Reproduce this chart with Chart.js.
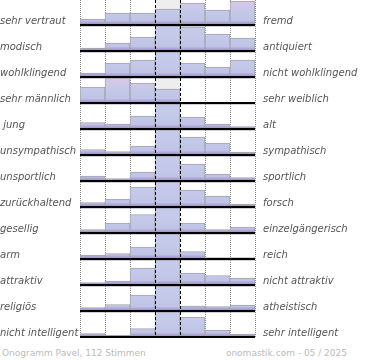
<!DOCTYPE html>
<html>
<head>
<meta charset="utf-8">
<script src="https://cdn.jsdelivr.net/npm/chart.js@4.4.1/dist/chart.umd.min.js"></script>
<style>
  body { margin: 0; background: #fff; }
  #wrap { position: relative; width: 370px; height: 360px; font-family: 'DejaVu Sans', sans-serif; }
  #wrap canvas { position: absolute; left: 0; }
  .lbl { position: absolute; font-size: 10px; line-height: 12px; font-style: italic; color: #555; white-space: pre; }
  .foot { position: absolute; top: 348px; font-size: 9px; line-height: 11px; color: #bbb; white-space: pre; }
</style>
</head>
<body>
<div id="wrap">
  <div class="foot" style="left:2px">Onogramm Pavel, 112 Stimmen</div>
  <div class="foot" style="right:23px">onomastik.com - 05 / 2025</div>
</div>
<script>
// Onogramm - one small histogram per pair of attributes
var leftLabels = ['sehr vertraut', 'modisch', 'wohlklingend', 'sehr männlich', ' jung', 'unsympathisch',
    'unsportlich', 'zurückhaltend', 'gesellig', 'arm', 'attraktiv', 'religiös', 'nicht intelligent'];
var rightLabels = ['fremd', 'antiquiert', 'nicht wohlklingend', 'sehr weiblich', 'alt', 'sympathisch',
    'sportlich', 'forsch', 'einzelgängerisch', 'reich', 'nicht attraktiv', 'atheistisch', 'sehr intelligent'];
var steps = ['1', '2', '3', '4', '5', '6', '7'];

// bar heights per row (max of each row = 25)
var rowValues = [
    [6, 12, 12, 16, 22, 15, 24],
    [3, 8, 14, 25, 24, 17, 13],
    [4, 14, 17, 25, 14, 10, 17],
    [16, 25, 20, 14, 0, 0, 0],
    [6.5, 5, 13, 25, 12, 5, 2.5],
    [5.5, 3.5, 9, 25, 18, 12, 3],
    [5, 2.5, 9, 25, 17, 7, 3.5],
    [4.5, 8, 20, 25, 17, 11, 3],
    [3.5, 10, 18.5, 25, 10, 3.5, 6],
    [4, 5.5, 12, 25, 7.5, 1.5, 1.5],
    [2.5, 4, 17, 25, 12, 9.5, 7],
    [3.5, 6.5, 16, 25, 5, 4.5, 6],
    [3.5, 2, 8.5, 25, 20, 7, 3]
];
var yMax = 25;
var rowH = 26;

// grid lines, grey middle column and black baseline
var rowDecor = {
    id: 'rowDecor',
    beforeDatasetsDraw: function(chart, args, opts) {
        var c = chart.ctx, a = chart.chartArea;
        var n = chart.data.labels.length, w = a.width / n, mid = Math.floor(n / 2);
        c.save();
        c.fillStyle = '#eeeeee';
        c.fillRect(chart.scales.x.getPixelForValue(mid) - w / 2, a.top, w, a.height);
        c.strokeStyle = '#8a8a8a';
        c.lineWidth = 1;
        c.setLineDash([1, 1]);
        for (var k = 0; k <= n; k++) {
            if (k == mid || k == mid + 1) continue;
            var x = Math.round(a.left + k * w) + 0.5;
            c.beginPath();
            c.moveTo(x, 0);
            c.lineTo(x, chart.height);
            c.stroke();
        }
        // soft shadow under the baseline of the row above
        if (opts.shadow) {
            c.fillStyle = 'rgba(120,120,140,0.35)';
            c.fillRect(a.left + 1, 0, a.width, 1);
        }
        c.restore();
    },
    afterDatasetsDraw: function(chart) {
        var c = chart.ctx, a = chart.chartArea;
        var n = chart.data.labels.length, w = a.width / n, mid = Math.floor(n / 2);
        c.save();
        c.strokeStyle = '#000';
        c.lineWidth = 1;
        c.setLineDash([3, 2]);
        [mid, mid + 1].forEach(function(k) {
            var x = Math.round(a.left + k * w) + 0.5;
            c.beginPath();
            c.moveTo(x, 0);
            c.lineTo(x, chart.height);
            c.stroke();
        });
        c.setLineDash([]);
        c.fillStyle = '#000';
        c.fillRect(a.left, a.bottom - 1, a.width, 2);
        c.restore();
    }
};

function barFill(context) {
    var chart = context.chart, a = chart.chartArea;
    if (!a) return '#c3c8e8';
    var vals = chart.data.datasets[0].data;
    var peak = vals.indexOf(Math.max.apply(null, vals));
    var g = chart.ctx.createLinearGradient(0, a.top, 0, a.bottom);
    g.addColorStop(0, peak == 3 ? '#c5cbeb' : '#dcc6e6');
    g.addColorStop(0.45, '#c4c9e9');
    g.addColorStop(0.82, '#c0c3e5');
    g.addColorStop(1, '#9886c0');
    return g;
}

var wrap = document.getElementById('wrap');
rowValues.forEach(function(values, i) {
    var cv = document.createElement('canvas');
    cv.width = 370;
    cv.height = rowH;
    cv.style.top = (i * rowH) + 'px';
    wrap.appendChild(cv);

    var l = document.createElement('div');
    l.className = 'lbl';
    l.style.left = '0px';
    l.style.top = (i * rowH + 15) + 'px';
    l.textContent = leftLabels[i];
    wrap.appendChild(l);

    var r = document.createElement('div');
    r.className = 'lbl';
    r.style.left = '263px';
    r.style.top = (i * rowH + 15) + 'px';
    r.textContent = rightLabels[i];
    wrap.appendChild(r);

    new Chart(cv.getContext('2d'), {
        type: 'bar',
        data: {
            labels: steps,
            datasets: [{
                data: values,
                backgroundColor: barFill,
                borderColor: '#a4a4ac',
                borderWidth: { top: 1, left: 1, right: 1, bottom: 0 },
                borderSkipped: false,
                barPercentage: 1,
                categoryPercentage: 1
            }]
        },
        options: {
            responsive: false,
            animation: false,
            devicePixelRatio: 1,
            events: [],
            layout: { padding: { left: 80, right: 115, top: 0, bottom: 1 } },
            plugins: {
                legend: { display: false },
                tooltip: { enabled: false },
                rowDecor: { shadow: i > 0 }
            },
            scales: {
                x: { display: false },
                y: { display: false, min: 0, max: yMax }
            }
        },
        plugins: [rowDecor]
    });
});
</script>
</body>
</html>
